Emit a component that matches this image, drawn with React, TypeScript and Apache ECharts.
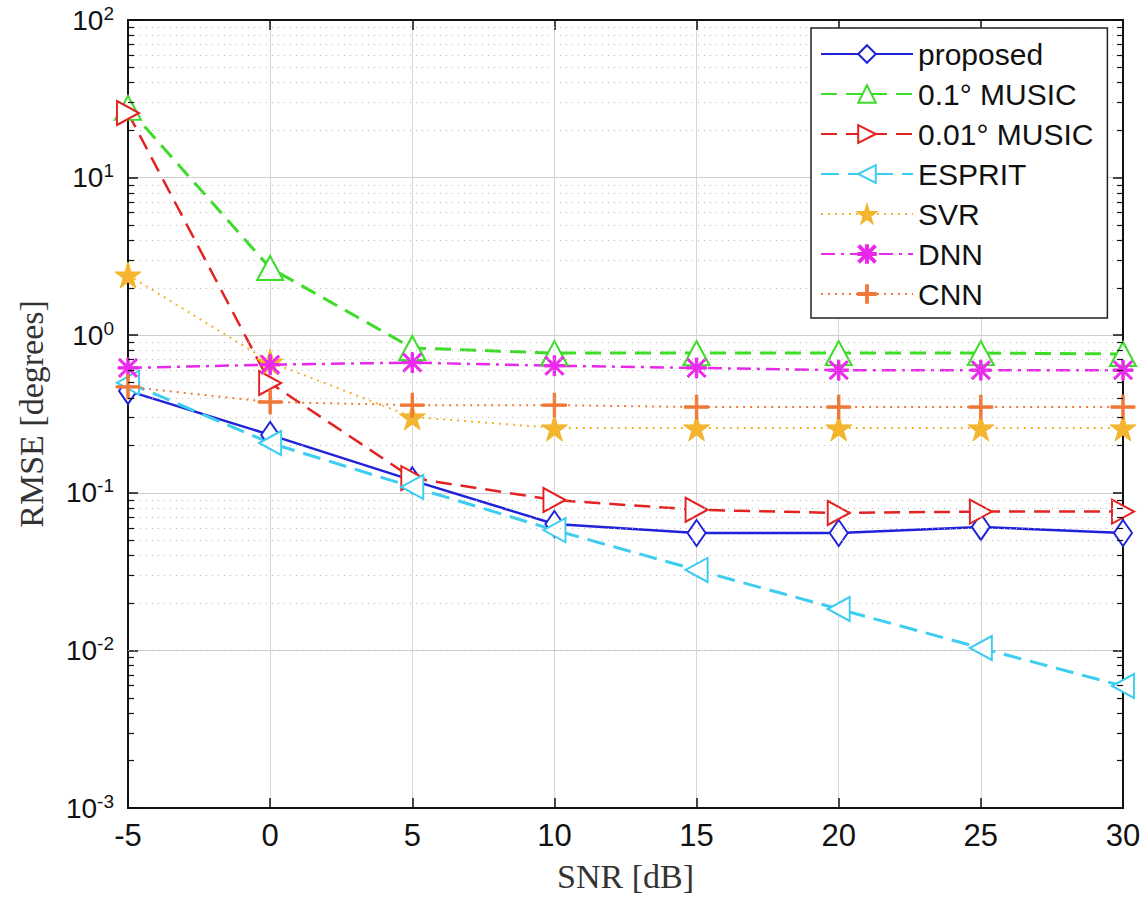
import React, { useEffect, useRef } from "react";
import * as echarts from "echarts";

const snr = [-5, 0, 5, 10, 15, 20, 25, 30];
const proposed = [0.443, 0.233, 0.12, 0.0634, 0.0556, 0.0556, 0.0607, 0.0556];
const music01 = [27.7, 2.67, 0.83, 0.77, 0.77, 0.77, 0.77, 0.76];
const music001 = [25.7, 0.497, 0.124, 0.09, 0.078, 0.0745, 0.076, 0.076];
const esprit = [0.5, 0.207, 0.109, 0.058, 0.0324, 0.0183, 0.01035, 0.00594];
const svr = [2.41, 0.676, 0.303, 0.258, 0.258, 0.258, 0.258, 0.258];
const dnn = [0.62, 0.65, 0.67, 0.64, 0.62, 0.6, 0.6, 0.6];
const cnn = [0.47, 0.377, 0.36, 0.36, 0.35, 0.35, 0.35, 0.35];
const seriesNames = ["proposed", "0.1° MUSIC", "0.01° MUSIC", "ESPRIT", "SVR", "DNN", "CNN"];
const decades = [-3, -2, -1, 0, 1];
const minorSteps = [2, 3, 4, 5, 6, 7, 8, 9];
const X_MIN = -5;
const X_MAX = 30;

const STAR = "path://M50,0 L61,35 L98,35 L68,57 L79,91 L50,70 L21,91 L32,57 L2,35 L39,35 Z";
const ASTER =
  "path://M44,0 H56 V44 H100 V56 H56 V100 H44 V56 H0 V44 H44 Z M10,2 L50,42 L90,2 L98,10 L58,50 L98,90 L90,98 L50,58 L10,98 L2,90 L42,50 L2,10 Z";
const PLUS = "path://M45,0 H55 V45 H100 V55 H55 V100 H45 V55 H0 V45 H45 Z";

const G_LEFT = 128;
const G_RIGHT = 23;
const G_TOP = 20;
const G_BOTTOM = 93;
const W = 1146;
const H = 901;

export default function App() {
  const ref = useRef<HTMLDivElement>(null);
  useEffect(() => {
    document.body.style.margin = "0";
    const chart = echarts.init(ref.current!, null, { renderer: "svg" });
    const pts = (arr: number[]) => snr.map((x, i) => [x, arr[i]]);
    const minorVals: number[] = [];
    decades.forEach((d) => minorSteps.forEach((m) => minorVals.push(m * Math.pow(10, d))));
    // minor tick length expressed in x units (~6px)
    const plotW = W - G_LEFT - G_RIGHT;
    const tickLen = (6 / plotW) * (X_MAX - X_MIN);
    const minorTickSegs: any[] = [];
    minorVals.forEach((v) => {
      minorTickSegs.push([{ coord: [X_MIN, v] }, { coord: [X_MIN + tickLen, v] }]);
      minorTickSegs.push([{ coord: [X_MAX - tickLen, v] }, { coord: [X_MAX, v] }]);
    });
    const sup = (v: number) => {
      const e = Math.round(Math.log10(v));
      return `{b|10}{s|${e}}`;
    };
    const mk = (
      name: string,
      data: number[],
      color: string,
      lineType: any,
      width: number,
      symbol: string,
      size: any,
      rotate = 0,
      fill?: string
    ) => ({
      name,
      type: "line",
      data: pts(data),
      symbol,
      symbolSize: size,
      symbolRotate: rotate,
      showSymbol: true,
      z: 3,
      lineStyle: { color, width, type: lineType },
      itemStyle: fill
        ? { color: fill, borderColor: color, borderWidth: 1 }
        : { color, borderColor: color, borderWidth: 2.5 },
    });
    const fontSans = "'Liberation Sans', Arial, sans-serif";
    const fontSerif = "'Liberation Serif', 'DejaVu Serif', serif";
    const frameLine = () => ({ show: true, onZero: false, lineStyle: { color: "#111", width: 2 } });
    const tick = () => ({ show: true, inside: true, length: 10, lineStyle: { color: "#111", width: 1.5 } });
    chart.setOption({
      animation: false,
      backgroundColor: "#fff",
      grid: {
        left: G_LEFT,
        right: G_RIGHT,
        top: G_TOP,
        bottom: G_BOTTOM,
        containLabel: false,
        outerBoundsMode: "none",
      },
      legend: {
        data: seriesNames,
        orient: "vertical",
        left: 811,
        top: 28,
        z: 110,
        backgroundColor: "#fff",
        borderColor: "#222",
        borderWidth: 1.5,
        padding: [11, 14, 9, 9],
        itemWidth: 92,
        itemHeight: 22,
        itemGap: 10,
        textStyle: { fontSize: 30, fontFamily: fontSans, color: "#111" },
      },
      xAxis: [
        {
          type: "value",
          min: X_MIN,
          max: X_MAX,
          interval: 5,
          name: "SNR [dB]",
          nameLocation: "middle",
          nameGap: 51,
          nameTextStyle: { fontSize: 34, fontFamily: fontSerif, color: "#333" },
          axisLine: frameLine(),
          axisTick: tick(),
          axisLabel: { fontSize: 31, color: "#111", margin: 12, fontFamily: fontSans },
          splitLine: { show: true, lineStyle: { color: "#d6d6d6", width: 1 } },
        },
        {
          type: "value",
          position: "top",
          min: X_MIN,
          max: X_MAX,
          interval: 5,
          axisLine: frameLine(),
          axisTick: tick(),
          axisLabel: { show: false },
          splitLine: { show: false },
        },
      ],
      yAxis: [
        {
          type: "log",
          logBase: 10,
          min: 0.001,
          max: 100,
          name: "RMSE [degrees]",
          nameLocation: "middle",
          nameGap: 80,
          nameTextStyle: { fontSize: 34, fontFamily: fontSerif, color: "#333" },
          axisLine: frameLine(),
          axisTick: tick(),
          axisLabel: {
            formatter: sup,
            margin: 14,
            rich: {
              b: { fontSize: 28, fontFamily: fontSans, color: "#111" },
              s: { fontSize: 19, fontFamily: fontSans, color: "#111", padding: [0, 0, 14, 0] },
            },
          },
          splitLine: { show: true, lineStyle: { color: "#cfcfcf", width: 1 } },
        },
        {
          type: "log",
          logBase: 10,
          min: 0.001,
          max: 100,
          position: "right",
          axisLine: frameLine(),
          axisTick: tick(),
          axisLabel: { show: false },
          splitLine: { show: false },
        },
      ],
      series: [
        {
          name: "grid-minor",
          type: "line",
          data: [],
          silent: true,
          z: 1,
          markLine: {
            silent: true,
            symbol: ["none", "none"],
            animation: false,
            label: { show: false },
            lineStyle: { color: "#b8b8b8", type: [1, 5], width: 1 },
            data: minorVals.map((v) => ({ yAxis: v })),
          },
        },
        {
          name: "minor-ticks",
          type: "line",
          data: [],
          silent: true,
          z: 5,
          markLine: {
            silent: true,
            symbol: ["none", "none"],
            animation: false,
            label: { show: false },
            lineStyle: { color: "#111", type: "solid", width: 1.2 },
            data: minorTickSegs,
          },
        },
        mk("proposed", proposed, "#1f22d8", "solid", 2.5, "emptyDiamond", [18, 26]),
        mk("0.1° MUSIC", music01, "#3cdc28", [16, 9], 3, "emptyTriangle", [26, 24]),
        mk("0.01° MUSIC", music001, "#e32222", [16, 9], 2.5, "emptyTriangle", [24, 22], -90),
        mk("ESPRIT", esprit, "#3ccdf0", [18, 9], 3, "emptyTriangle", [24, 22], 90),
        mk("SVR", svr, "#f2b428", [2, 5], 2, STAR, 26, 0, "#f5b530"),
        mk("DNN", dnn, "#ea28ea", [14, 6, 3, 6], 2.5, ASTER, 20, 0, "#ee2aee"),
        mk("CNN", cnn, "#f07838", [2, 5], 2, PLUS, 24, 0, "#f07838"),
      ],
    });
    return () => chart.dispose();
  }, []);
  return <div ref={ref} style={{ width: W, height: H }} />;
}
